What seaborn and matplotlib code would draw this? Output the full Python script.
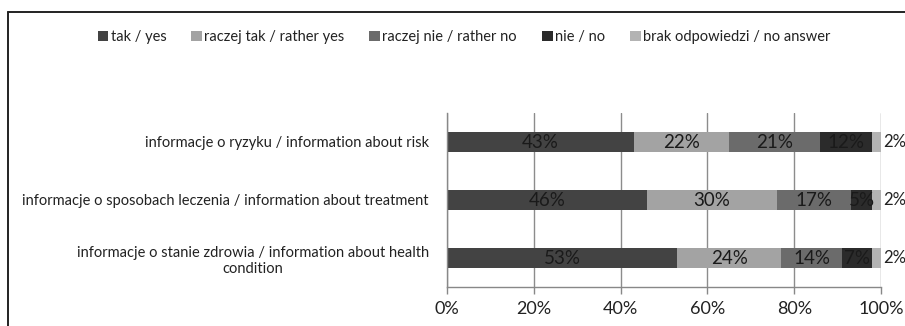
import matplotlib
matplotlib.use("Agg")
import matplotlib.pyplot as plt
from matplotlib.lines import Line2D
from matplotlib.patches import Patch
import numpy as np
import pandas as pd
import seaborn as sns

# data
categories = [
    "informacje o ryzyku / information about risk",
    "informacje o sposobach leczenia / information about treatment",
    "informacje o stanie zdrowia / information about health\ncondition",
]
series = ["tak / yes", "raczej tak / rather yes", "raczej nie / rather no",
          "nie / no", "brak odpowiedzi / no answer"]
tak = [43, 46, 53]
raczej_tak = [22, 30, 24]
raczej_nie = [21, 17, 14]
nie = [12, 5, 7]
brak = [2, 2, 2]
colors = ["#434343", "#a3a3a3", "#6b6b6b", "#2b2b2b", "#b3b3b3"]
xticks = [0, 20, 40, 60, 80, 100]

sns.set_style("white")
plt.rcParams["font.family"] = ["Lato", "DejaVu Sans"]

df = pd.DataFrame({"cat": categories, series[0]: tak, series[1]: raczej_tak,
                   series[2]: raczej_nie, series[3]: nie, series[4]: brak})
vals = df[series].to_numpy(dtype=float)
cum = vals.cumsum(axis=1)

fig = plt.figure(figsize=(9.05, 3.26), dpi=100)
ax = fig.add_axes([447 / 905, 1 - 287 / 326, 434 / 905, 174 / 326])

# stacked bars: draw cumulative totals from the largest down
for j in range(len(series) - 1, -1, -1):
    sns.barplot(x=cum[:, j], y=df["cat"], color=colors[j], orient="h",
                width=0.36, ax=ax, saturation=1, edgecolor="none")

# value labels
for i in range(len(categories)):
    for j in range(len(series)):
        v = vals[i, j]
        if j == len(series) - 1:
            ax.text(100.6, i, f"{v:.0f}%", va="center", ha="left",
                    fontsize=12, color="#222222", clip_on=False)
        else:
            ax.text(cum[i, j] - v / 2, i, f"{v:.0f}%", va="center",
                    ha="center", fontsize=13.5, color="#1a1a1a")

ax.set_xlim(0, 100)
ax.set_ylim(2.5, -0.5)
ax.set_xticks(xticks)
ax.set_xticklabels([f"{t}%" for t in xticks], fontsize=13, color="#222222")
ax.set_xlabel("")
ax.set_ylabel("")
ax.set_yticks(range(len(categories)))
ax.set_yticklabels(categories, fontsize=10.5, color="#222222")
for lab in ax.get_yticklabels():
    lab.set_multialignment("center")
ax.tick_params(axis="y", length=0, pad=13)
ax.set_yticks([-0.5, 0.5, 1.5, 2.5], minor=True)
ax.tick_params(axis="y", which="minor", length=5, color="#888888", width=1)
ax.tick_params(axis="x", length=5, color="#888888", width=1, pad=5, direction="out", bottom=True)

ax.grid(axis="x", color="#8c8c8c", linewidth=1)
ax.set_axisbelow(True)
for s in ["top", "right"]:
    ax.spines[s].set_visible(False)
for s in ["left", "bottom"]:
    ax.spines[s].set_color("#888888")
    ax.spines[s].set_linewidth(1)

handles = [Patch(facecolor=c, edgecolor="none") for c in colors]
fig.legend(handles, series, loc="center", bbox_to_anchor=(464 / 905, 1 - 37 / 326),
           ncol=5, frameon=False, fontsize=10.5, handlelength=0.75, handleheight=0.75,
           handletextpad=0.15, columnspacing=1.7, labelcolor="#222222")

# outer frame (cropped at right and bottom)
fig.add_artist(Line2D([8 / 905, 1], [1 - 12 / 326] * 2, color="#222222", linewidth=1.4))
fig.add_artist(Line2D([8 / 905] * 2, [0, 1 - 12 / 326], color="#222222", linewidth=1.4))

fig.savefig("out.png", dpi=100)
